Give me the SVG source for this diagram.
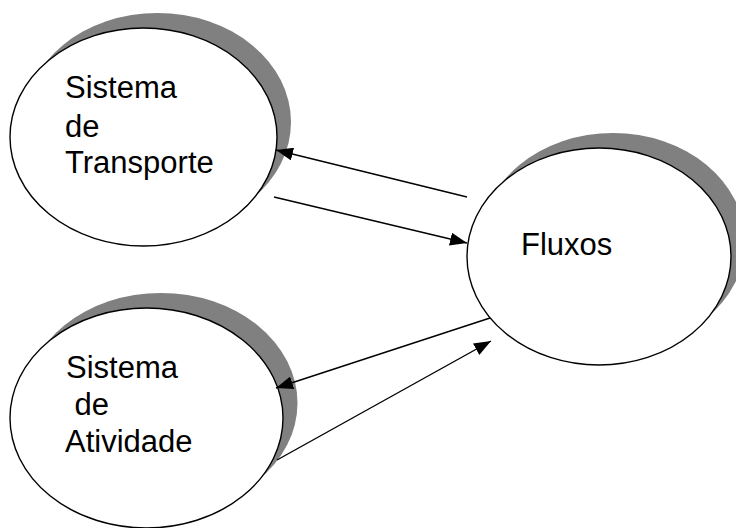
<svg xmlns="http://www.w3.org/2000/svg" width="736" height="528" viewBox="0 0 736 528">
<style>
.shadow{fill:#808080;stroke:none}
.node{fill:#ffffff;stroke:#000000;stroke-width:1.4}
.lbl{font-family:"Liberation Sans",Arial,sans-serif;font-size:31px;fill:#000000}
.conn{stroke:#000000;stroke-width:1.4;fill:none;marker-end:url(#ah)}
</style>
<defs>
<marker id="ah" markerUnits="userSpaceOnUse" markerWidth="18" markerHeight="13" refX="17" refY="6.5" orient="auto">
<path d="M0,0 L17,6.5 L0,13 z" fill="#000000"/>
</marker>
</defs>
<rect width="736" height="528" fill="#ffffff"/>
<g id="transporte">
<ellipse class="shadow" cx="157.5" cy="122" rx="133.5" ry="109"/>
<ellipse class="node" cx="143.5" cy="137" rx="133.5" ry="109"/>
<text class="lbl" x="65" y="98">Sistema</text>
<text class="lbl" x="65" y="137">de</text>
<text class="lbl" x="65" y="173">Transporte</text>
</g>
<g id="atividade">
<ellipse class="shadow" cx="161" cy="403" rx="136.5" ry="110"/>
<ellipse class="node" cx="146.5" cy="418" rx="136.5" ry="110"/>
<text class="lbl" x="66" y="378">Sistema</text>
<text class="lbl" x="66" y="415" xml:space="preserve"> de</text>
<text class="lbl" x="65" y="452">Atividade</text>
</g>
<g id="fluxos">
<ellipse class="shadow" cx="613" cy="241.5" rx="132" ry="108.5"/>
<ellipse class="node" cx="599" cy="256.5" rx="132" ry="108.5"/>
<text class="lbl" x="521" y="255">Fluxos</text>
</g>
<g id="connectors">
<line class="conn" x1="467" y1="197" x2="276" y2="150"/>
<line class="conn" x1="274" y1="197" x2="467" y2="243"/>
<line class="conn" x1="490" y1="318" x2="276" y2="388"/>
<line class="conn" x1="277" y1="460" x2="491" y2="341"/>
</g>
</svg>
